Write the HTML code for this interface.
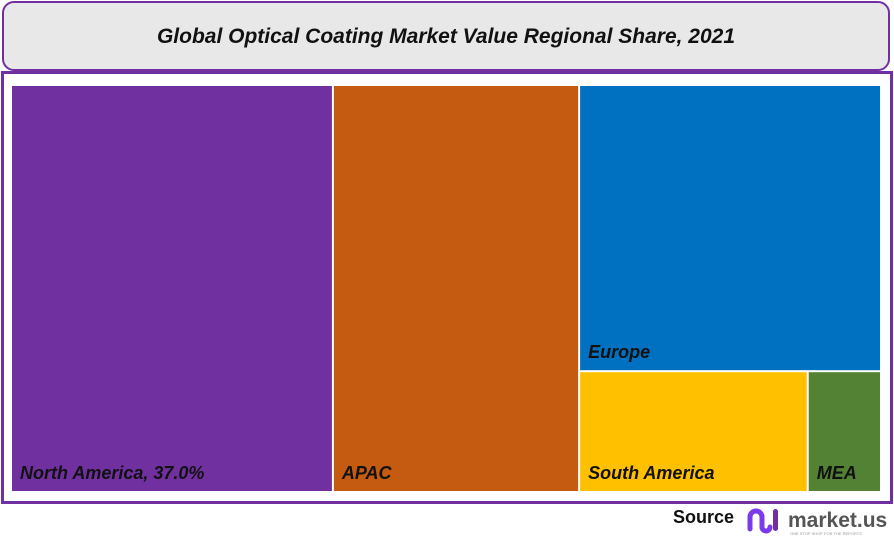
<!DOCTYPE html>
<html><head><meta charset="utf-8"><style>
body{margin:0;width:894px;height:539px;background:#fff;position:relative;overflow:hidden;font-family:"Liberation Sans",sans-serif}
#title{position:absolute;left:2px;top:1px;width:884px;height:66px;border:2px solid #7030a0;border-radius:12px;background:#e8e8e8;text-align:center;line-height:68px;font-weight:bold;font-style:italic;font-size:21px;color:#111}
#frame{position:absolute;left:1px;top:71px;width:886px;height:427px;border:3px solid #7030a0;border-top-width:3px}
#src{position:absolute;left:673px;top:507px;font-weight:bold;font-size:18px;color:#111}
</style></head><body>
<div id="title">Global Optical Coating Market Value Regional Share, 2021</div>
<div id="frame"></div>
<svg id="tm" width="894" height="539" style="position:absolute;left:0;top:0"></svg>
<div id="src">Source</div>
<svg width="150" height="34" style="position:absolute;left:744px;top:503px">
<path d="M6 26 V14 a6 6 0 0 1 12 0 V24 a4 4 0 0 0 8 0" stroke="#7c3aed" stroke-width="5" fill="none" stroke-linecap="round"/>
<rect x="29" y="6" width="5" height="22" rx="2.5" fill="#7030a0"/>
<text x="44" y="24" font-family="Liberation Sans,sans-serif" font-weight="bold" font-size="21" fill="#555">market.us</text>
<text x="46" y="32" font-family="Liberation Sans,sans-serif" font-size="4" fill="#999">ONE STOP SHOP FOR THE REPORTS</text>
</svg>
<script>
const regions=["North America","APAC","Europe","South America","MEA"];
const shares=[37.0,28.3,24.4,7.8,2.5];
const colors=["#7030a0","#c55a11","#0070c0","#ffc000","#548235"];
const labels=["North America, 37.0%","APAC","Europe","South America","MEA"];
const svg=document.getElementById('tm');
const X0=12,Y0=86,W=870,H=407,G=2;
const total=shares.reduce((a,b)=>a+b,0);
const rects=[];
let x=X0;
// first two as full-height columns
for(let i=0;i<2;i++){const w=W*shares[i]/total;rects.push([x,Y0,w,H]);x+=w;}
const restW=X0+W-x;const rest=shares[2]+shares[3]+shares[4];
const eh=H*shares[2]/rest;rects.push([x,Y0,restW,eh]);
const sw=restW*shares[3]/(shares[3]+shares[4]);
rects.push([x,Y0+eh,sw,H-eh]);rects.push([x+sw,Y0+eh,restW-sw,H-eh]);
const NS='http://www.w3.org/2000/svg';
rects.forEach((r,i)=>{
const re=document.createElementNS(NS,'rect');
re.setAttribute('x',r[0]);re.setAttribute('y',r[1]);re.setAttribute('width',r[2]-G);re.setAttribute('height',r[3]-G);re.setAttribute('fill',colors[i]);


svg.appendChild(re);
const t=document.createElementNS(NS,'text');
t.setAttribute('x',r[0]+(i==4?8:8));t.setAttribute('y',r[1]+r[3]-G-12);
t.setAttribute('font-family','Liberation Sans,sans-serif');t.setAttribute('font-weight','bold');t.setAttribute('font-style','italic');t.setAttribute('font-size','18');t.setAttribute('fill','#111');
t.textContent=labels[i];


svg.appendChild(t);
});
</script>
</body></html>
